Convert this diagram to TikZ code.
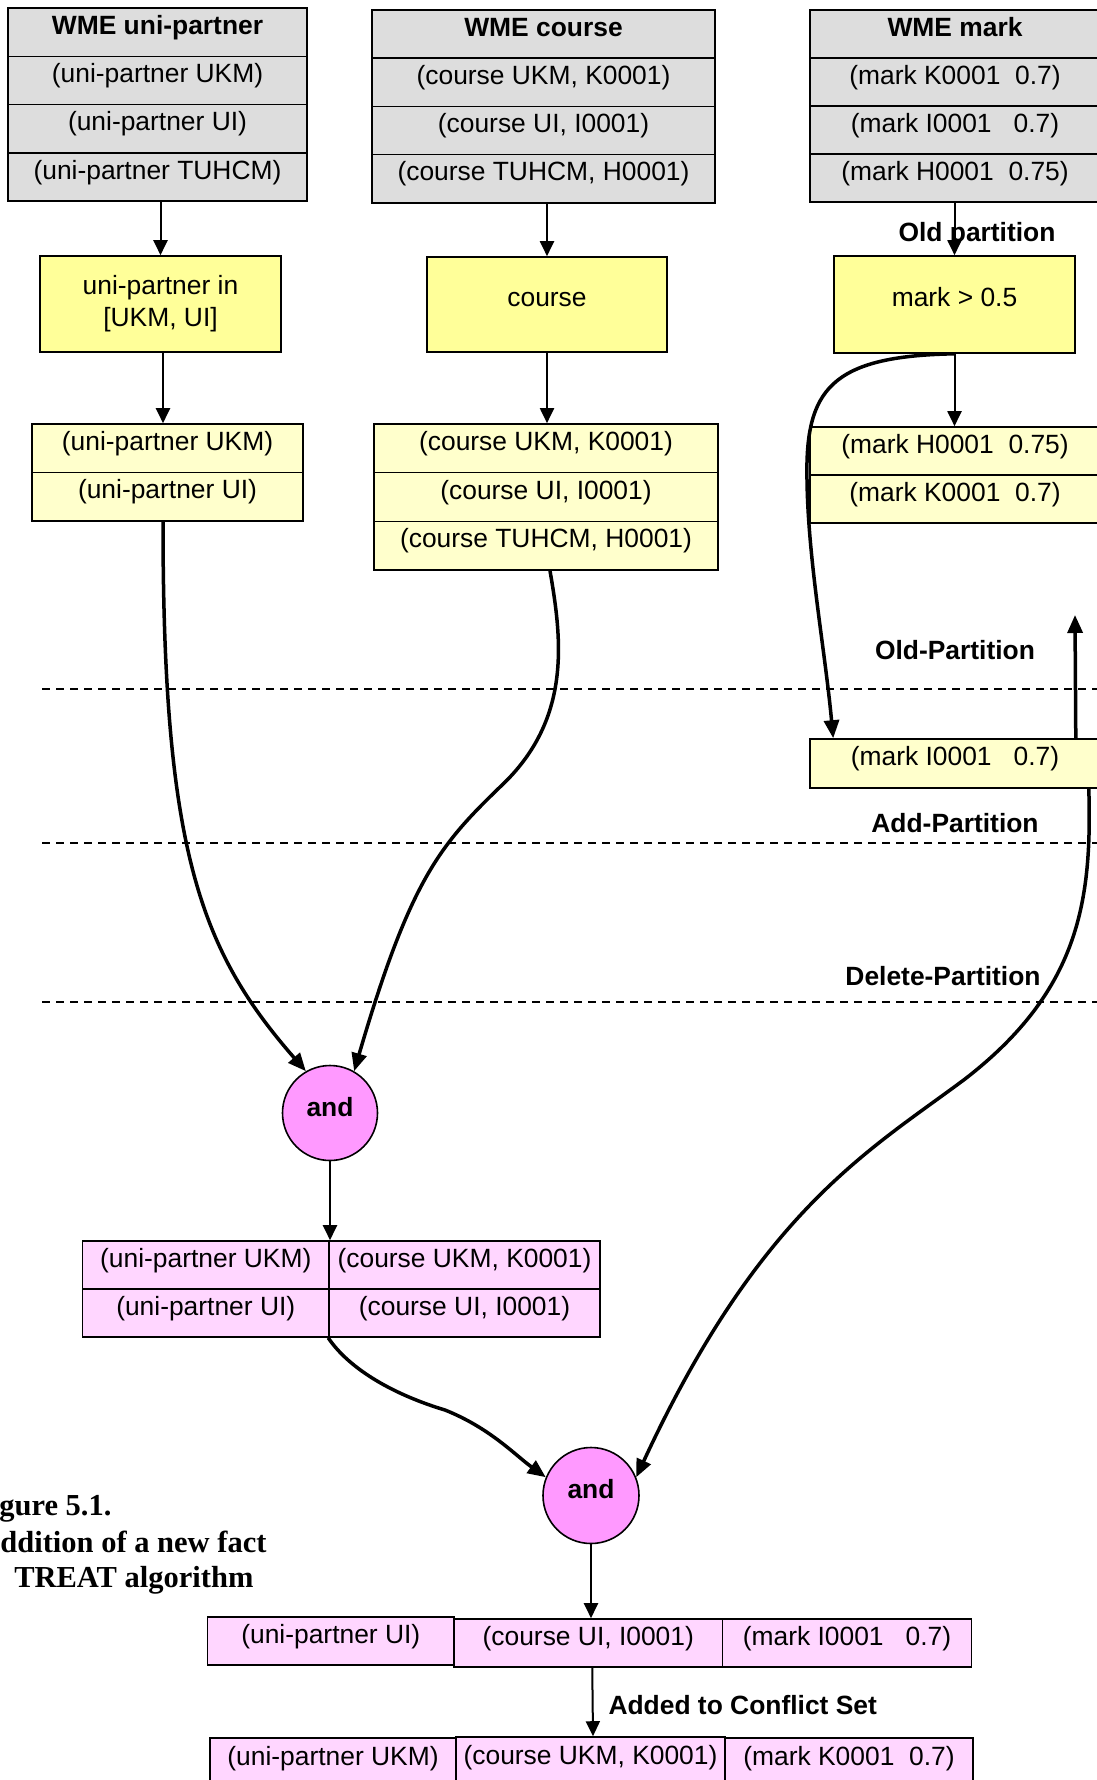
\documentclass[tikz,border=0pt]{standalone}
\usepackage{fontspec}
\setmainfont{Liberation Sans}
\newfontfamily\capfont{Liberation Serif}
\usetikzlibrary{arrows.meta}
\definecolor{wmegray}{HTML}{DDDDDD}
\definecolor{filteryellow}{HTML}{FFFF99}
\definecolor{memyellow}{HTML}{FFFFCC}
\definecolor{joinpink}{HTML}{FF99FF}
\definecolor{tokenpink}{HTML}{FFD6FF}

\begin{document}
\begin{tikzpicture}[x=1pt,y=-1pt,
  every node/.style={font=\fontsize{26.4}{32}\selectfont},
  box/.style 2 args={draw, line width=1.6pt, inner sep=0pt, minimum width=#1, minimum height=#2},
  cell/.style 2 args={box={#1}{#2}, text height=14pt, text depth=10pt},
  join/.style={circle, draw, line width=1.6pt, fill=joinpink, inner sep=0pt, minimum size=#1, text height=14pt, text depth=8pt},
  link/.style={line width=2pt, -{Triangle[length=15pt,width=14pt]}},
  flow/.style={line width=3.5pt, -{Triangle[length=18pt,width=15pt]}},
  sep/.style={line width=1.8pt, dash pattern=on 8pt off 6pt},
  lbl/.style={font=\bfseries\fontsize{26.4}{32}\selectfont},
  caption/.style={anchor=base east, font=\capfont\bfseries\fontsize{30.5}{36}\selectfont}]

\useasboundingbox (0,0) rectangle (1096,1780);

% working memory: uni-partner
\node[cell={299pt}{48.3pt}, fill=wmegray] (u0) at (157.5,32.15) {\bfseries WME uni-partner};
\node[cell={299pt}{48.3pt}, fill=wmegray] (u1) at (157.5,80.45) {(uni-partner UKM)};
\node[cell={299pt}{48.3pt}, fill=wmegray] (u2) at (157.5,128.75) {(uni-partner UI)};
\node[cell={299pt}{48.3pt}, fill=wmegray] (u3) at (157.5,177.05) {(uni-partner TUHCM)};

% working memory: course
\node[cell={343pt}{48.2pt}, fill=wmegray] (c0) at (543.5,34.1) {\bfseries WME course};
\node[cell={343pt}{48.2pt}, fill=wmegray] (c1) at (543.5,82.3) {(course UKM, K0001)};
\node[cell={343pt}{48.2pt}, fill=wmegray] (c2) at (543.5,130.5) {(course UI, I0001)};
\node[cell={343pt}{48.2pt}, fill=wmegray] (c3) at (543.5,178.7) {(course TUHCM, H0001)};

% working memory: mark
\node[cell={290pt}{48pt}, fill=wmegray] (m0) at (955,34) {\bfseries WME mark};
\node[cell={290pt}{48pt}, fill=wmegray] (m1) at (955,82) {(mark K0001\ \ 0.7)};
\node[cell={290pt}{48pt}, fill=wmegray] (m2) at (955,130) {(mark I0001\ \ \ 0.7)};
\node[cell={290pt}{48pt}, fill=wmegray] (m3) at (955,178) {(mark H0001\ \ 0.75)};

% alpha tests
\node[box={241pt}{96pt}, fill=filteryellow, align=center] (f1) at (160.5,304) {uni-partner in\\{[}UKM, UI{]}};
\node[cell={240pt}{95pt}, fill=filteryellow] (f2) at (547,304.5) {course};
\node[lbl, anchor=base] (oldp) at (977,241) {Old partition};
\node[cell={241pt}{97pt}, fill=filteryellow] (f3) at (954.5,304.5) {mark > 0.5};

% alpha memories
\node[cell={271pt}{48.5pt}, fill=memyellow] (t1a) at (167.5,448.25) {(uni-partner UKM)};
\node[cell={271pt}{48.5pt}, fill=memyellow] (t1b) at (167.5,496.75) {(uni-partner UI)};
\node[cell={344pt}{48.67pt}, fill=memyellow] (t2a) at (546,448.3) {(course UKM, K0001)};
\node[cell={344pt}{48.67pt}, fill=memyellow] (t2b) at (546,497) {(course UI, I0001)};
\node[cell={344pt}{48.67pt}, fill=memyellow] (t2c) at (546,545.7) {(course TUHCM, H0001)};
\node[cell={290pt}{48pt}, fill=memyellow] (t3a) at (955,451) {(mark H0001\ \ 0.75)};
\node[cell={290pt}{48pt}, fill=memyellow] (t3b) at (955,499) {(mark K0001\ \ 0.7)};

% partitions
\node[lbl, anchor=base] (oldlbl) at (955,659) {Old-Partition};
\draw[sep] (42,689) -- (1100,689);
\node[cell={290pt}{49pt}, fill=memyellow] (addb) at (955,763.5) {(mark I0001\ \ \ 0.7)};
\node[lbl, anchor=base] (addlbl) at (955,832) {Add-Partition};
\draw[sep] (42,843) -- (1100,843);
\node[lbl, anchor=base] (dellbl) at (943,985) {Delete-Partition};
\draw[sep] (42,1002) -- (1100,1002);
\coordinate (upend) at (1075,615);

% first join and its tokens
\node[join=95pt] (and1) at (330,1113) {\bfseries and};
\node[cell={246.5pt}{48pt}, fill=tokenpink] (p11) at (205.75,1265) {(uni-partner UKM)};
\node[cell={271pt}{48pt}, fill=tokenpink] (p12) at (464.5,1265) {(course UKM, K0001)};
\node[cell={246.5pt}{48pt}, fill=tokenpink] (p21) at (205.75,1313) {(uni-partner UI)};
\node[cell={271pt}{48pt}, fill=tokenpink] (p22) at (464.5,1313) {(course UI, I0001)};

% second join and the resulting tokens
\node[join=96pt] (and2) at (591,1495.5) {\bfseries and};
\node[cell={246.4pt}{48pt}, fill=tokenpink] (r1a) at (330.8,1641) {(uni-partner UI)};
\node[cell={268.5pt}{48pt}, fill=tokenpink] (r1b) at (588.25,1643) {(course UI, I0001)};
\node[cell={249pt}{48pt}, fill=tokenpink] (r1c) at (847,1643) {(mark I0001\ \ \ 0.7)};
\node[cell={246pt}{50pt}, fill=tokenpink] (r2a) at (333,1763) {(uni-partner UKM)};
\node[cell={269pt}{50pt}, fill=tokenpink] (r2b) at (590.5,1762) {(course UKM, K0001)};
\node[cell={248pt}{50pt}, fill=tokenpink] (r2c) at (849,1763) {(mark K0001\ \ 0.7)};
\node[lbl, anchor=base west] (conf) at (605,1714) {Added to Conflict Set};

% caption
\node[caption] (cap1) at (115,1515) {gure 5.1.};
\node[caption] (cap2) at (270,1552) {ddition of a new fact};
\node[caption] (cap3) at (257,1587) {TREAT algorithm};

% straight connectors
\draw[link] (f1.north |- u3.south) -- (f1.north);
\draw[link] (f2.north |- c3.south) -- (f2.north);
\draw[link] (f3.north |- m3.south) -- (f3.north);
\draw[link] ([xshift=2.5pt]f1.south) -- ([xshift=-4.5pt]t1a.north);
\draw[link] (f2.south) -- (f2.south |- t2a.north);
\draw[link] (f3.south) -- (f3.south |- t3a.north);
\draw[link] (and1.south) -- (and1.south |- p11.north);
\draw[link] (and2.south) -- (and2.south |- r1b.north);
\draw[link] ([xshift=4pt]r1b.south) -- ([xshift=2.5pt]r2b.north);
\draw[flow] ([xshift=-25pt]addb.north east) -- (upend);

% curved token flows
\draw[flow] ([xshift=-4.5pt]t1b.south) .. controls (163,850) and (200,950) .. (and1.120);
\draw[flow] ([xshift=4pt]t2c.south) .. controls (562,640) and (572,720) .. (500,787)
  .. controls (440,845) and (410,880) .. (and1.60);
\draw[flow] (f3.south) .. controls (830,356) and (805,390) .. (807,480)
  .. controls (808,560) and (825,650) .. ([xshift=24pt]addb.north west);
\draw[flow] ([xshift=-12pt]addb.south east) .. controls (1092,900) and (1080,990) .. (965,1079)
  .. controls (870,1150) and (760,1210) .. (and2.22);
\draw[flow] (p22.south west) .. controls (350,1370) and (395,1395) .. (445,1410)
  .. controls (490,1428) and (515,1455) .. (and2.158);
\end{tikzpicture}
\end{document}
